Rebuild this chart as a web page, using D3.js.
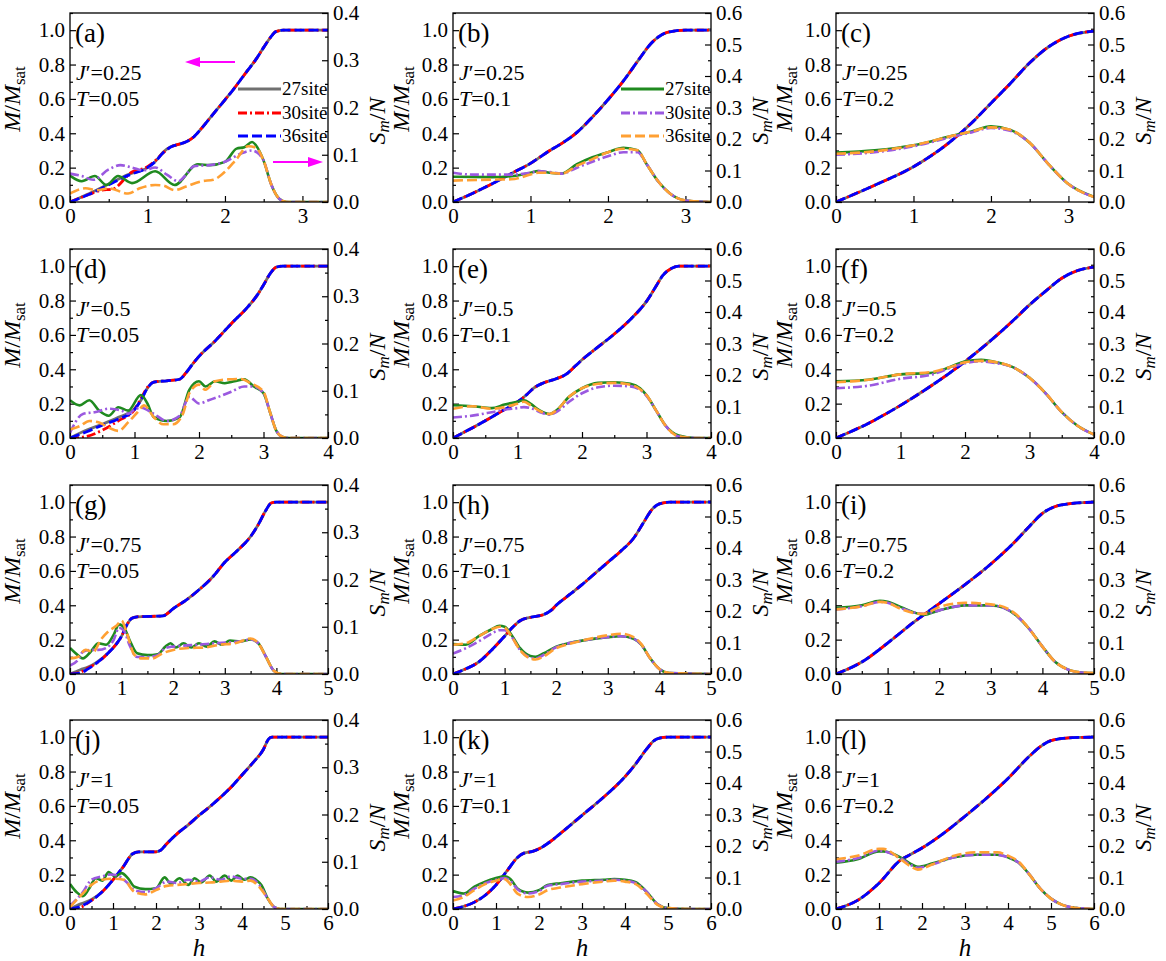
<!DOCTYPE html>
<html>
<head>
<meta charset="utf-8">
<script src="https://cdn.jsdelivr.net/npm/d3@7"></script>
<style>
  body { margin: 0; background: #fff; }
  svg text { font-family: "Liberation Serif", "Times New Roman", serif; }
</style>
</head>
<body>
<svg id="chart" width="1166" height="961"></svg>
<script>
// ---- data: [h, value] ----
// magnetisation M/Msat (27/30/36 site curves coincide except at low h for T=0.05)
var mA27 = [[0,0],[0.25,0.05],[0.5,0.105],[0.75,0.16],[1,0.2],[1.1,0.235],[1.2,0.29],[1.3,0.322],[1.4,0.335],[1.5,0.35],[1.6,0.38],[1.7,0.43],[1.8,0.485],[1.9,0.54],[2,0.595],[2.1,0.65],[2.2,0.71],[2.3,0.77],[2.4,0.83],[2.5,0.9],[2.6,0.965],[2.65,0.99],[2.75,1],[3.33,1]];
var mA30 = [[0,0],[0.25,0.045],[0.4,0.068],[0.55,0.075],[0.8,0.175],[1,0.205],[1.1,0.24],[1.2,0.285],[1.3,0.32],[1.4,0.335],[1.5,0.35],[1.6,0.38],[1.7,0.43],[1.8,0.485],[1.9,0.54],[2,0.595],[2.1,0.65],[2.2,0.71],[2.3,0.77],[2.4,0.83],[2.5,0.9],[2.6,0.965],[2.65,0.99],[2.75,1],[3.33,1]];
var mA36 = [[0,0],[0.25,0.045],[0.5,0.1],[0.75,0.155],[1,0.2],[1.1,0.235],[1.2,0.285],[1.3,0.32],[1.4,0.335],[1.5,0.35],[1.6,0.38],[1.7,0.43],[1.8,0.485],[1.9,0.54],[2,0.595],[2.1,0.65],[2.2,0.71],[2.3,0.77],[2.4,0.83],[2.5,0.9],[2.6,0.965],[2.65,0.99],[2.75,1],[3.33,1]];
var mB = [[0,0],[0.25,0.05],[0.5,0.105],[0.75,0.165],[1,0.225],[1.25,0.3],[1.4,0.34],[1.6,0.405],[1.8,0.495],[2,0.595],[2.2,0.705],[2.4,0.83],[2.55,0.92],[2.7,0.975],[2.85,0.995],[3,1],[3.33,1]];
var mC = [[0,0],[0.5,0.098],[1,0.205],[1.5,0.36],[1.75,0.46],[2,0.575],[2.25,0.69],[2.5,0.81],[2.75,0.905],[3,0.965],[3.33,0.995]];
var mD27 = [[0,0],[0.25,0.045],[0.5,0.08],[0.75,0.12],[1,0.17],[1.1,0.22],[1.2,0.29],[1.3,0.325],[1.5,0.333],[1.7,0.342],[1.8,0.38],[1.9,0.43],[2,0.475],[2.25,0.565],[2.5,0.665],[2.75,0.76],[2.9,0.83],[3,0.89],[3.1,0.955],[3.2,0.995],[3.3,1],[4,1]];
var mD30 = [[0,0],[0.2,0.005],[0.5,0.045],[0.75,0.1],[1,0.165],[1.1,0.23],[1.2,0.295],[1.3,0.325],[1.5,0.333],[1.7,0.342],[1.8,0.38],[1.9,0.43],[2,0.475],[2.25,0.565],[2.5,0.665],[2.75,0.76],[2.9,0.83],[3,0.89],[3.1,0.955],[3.2,0.995],[3.3,1],[4,1]];
var mD36 = [[0,0],[0.25,0.035],[0.5,0.075],[0.75,0.11],[1,0.165],[1.1,0.22],[1.2,0.29],[1.3,0.325],[1.5,0.333],[1.7,0.342],[1.8,0.38],[1.9,0.43],[2,0.475],[2.25,0.565],[2.5,0.665],[2.75,0.76],[2.9,0.83],[3,0.89],[3.1,0.955],[3.2,0.995],[3.3,1],[4,1]];
var mE = [[0,0],[0.5,0.1],[0.75,0.155],[1,0.21],[1.15,0.255],[1.25,0.29],[1.4,0.32],[1.6,0.345],[1.75,0.37],[1.9,0.42],[2,0.455],[2.25,0.53],[2.5,0.605],[2.75,0.69],[3,0.795],[3.15,0.885],[3.25,0.945],[3.4,0.99],[3.5,1],[4,1]];
var mF = [[0,0],[0.5,0.085],[1,0.19],[1.5,0.31],[1.75,0.375],[2,0.445],[2.25,0.52],[2.5,0.6],[2.75,0.685],[3,0.775],[3.25,0.855],[3.5,0.93],[3.75,0.975],[4,0.995]];
var mG27 = [[0,0],[0.2,0.025],[0.35,0.04],[0.5,0.065],[0.75,0.125],[0.9,0.175],[1,0.22],[1.1,0.285],[1.2,0.325],[1.3,0.333],[1.8,0.338],[1.9,0.355],[2,0.38],[2.25,0.43],[2.5,0.49],[2.75,0.56],[3,0.65],[3.25,0.72],[3.5,0.8],[3.65,0.87],[3.8,0.955],[3.9,0.995],[4,1],[5,1]];
var mG30 = [[0,0],[0.2,0.01],[0.35,0.035],[0.5,0.06],[0.75,0.125],[0.9,0.175],[1,0.22],[1.1,0.285],[1.2,0.325],[1.3,0.333],[1.8,0.338],[1.9,0.355],[2,0.38],[2.25,0.43],[2.5,0.49],[2.75,0.56],[3,0.65],[3.25,0.72],[3.5,0.8],[3.65,0.87],[3.8,0.955],[3.9,0.995],[4,1],[5,1]];
var mG36 = [[0,0],[0.2,0.005],[0.35,0.03],[0.5,0.06],[0.75,0.125],[0.9,0.175],[1,0.22],[1.1,0.285],[1.2,0.325],[1.3,0.333],[1.8,0.338],[1.9,0.355],[2,0.38],[2.25,0.43],[2.5,0.49],[2.75,0.56],[3,0.65],[3.25,0.72],[3.5,0.8],[3.65,0.87],[3.8,0.955],[3.9,0.995],[4,1],[5,1]];
var mH = [[0,0],[0.25,0.03],[0.5,0.07],[0.75,0.14],[1,0.22],[1.15,0.27],[1.3,0.31],[1.5,0.33],[1.75,0.345],[1.9,0.37],[2,0.4],[2.25,0.46],[2.5,0.52],[2.75,0.585],[3,0.65],[3.25,0.715],[3.5,0.79],[3.7,0.885],[3.85,0.955],[4,0.99],[4.2,1],[5,1]];
var mI = [[0,0],[0.5,0.07],[1,0.18],[1.5,0.3],[2,0.41],[2.5,0.52],[3,0.64],[3.5,0.78],[3.75,0.86],[4,0.935],[4.25,0.975],[4.5,0.99],[5,1]];
var mJ27 = [[0,0],[0.25,0.03],[0.5,0.055],[0.75,0.1],[1,0.17],[1.25,0.25],[1.45,0.32],[1.6,0.333],[2,0.333],[2.1,0.34],[2.25,0.38],[2.5,0.44],[2.75,0.49],[3,0.545],[3.25,0.595],[3.5,0.65],[3.75,0.71],[4,0.78],[4.25,0.85],[4.5,0.93],[4.62,0.99],[4.7,1],[6,1]];
var mJ30 = [[0,0],[0.25,0.01],[0.5,0.05],[0.75,0.1],[1,0.17],[1.25,0.25],[1.45,0.32],[1.6,0.333],[2,0.333],[2.1,0.34],[2.25,0.38],[2.5,0.44],[2.75,0.49],[3,0.545],[3.25,0.595],[3.5,0.65],[3.75,0.71],[4,0.78],[4.25,0.85],[4.5,0.93],[4.62,0.99],[4.7,1],[6,1]];
var mJ36 = [[0,0],[0.25,0.015],[0.5,0.05],[0.75,0.1],[1,0.17],[1.25,0.25],[1.45,0.32],[1.6,0.333],[2,0.333],[2.1,0.34],[2.25,0.38],[2.5,0.44],[2.75,0.49],[3,0.545],[3.25,0.595],[3.5,0.65],[3.75,0.71],[4,0.78],[4.25,0.85],[4.5,0.93],[4.62,0.99],[4.7,1],[6,1]];
var mK = [[0,0],[0.25,0.015],[0.5,0.04],[0.75,0.08],[1,0.14],[1.25,0.22],[1.5,0.3],[1.65,0.325],[1.85,0.335],[2,0.35],[2.25,0.39],[2.5,0.44],[3,0.545],[3.5,0.65],[4,0.77],[4.25,0.845],[4.5,0.93],[4.65,0.975],[4.8,0.995],[5,1],[6,1]];
var mL = [[0,0],[0.5,0.05],[1,0.15],[1.5,0.285],[1.75,0.32],[2,0.355],[2.5,0.44],[3,0.54],[3.5,0.645],[4,0.76],[4.5,0.89],[4.75,0.945],[5,0.98],[5.5,0.997],[6,1]];

// entropy Sm/N
var sA27 = [[0,0.056],[0.15,0.044],[0.32,0.055],[0.47,0.036],[0.62,0.055],[0.8,0.04],[1.1,0.065],[1.35,0.036],[1.65,0.08],[1.8,0.078],[2,0.085],[2.15,0.113],[2.25,0.116],[2.35,0.127],[2.42,0.115],[2.5,0.087],[2.6,0.036],[2.7,0.007],[2.8,0],[3.33,0]];
var sA30 = [[0,0.06],[0.15,0.055],[0.3,0.047],[0.5,0.069],[0.65,0.078],[0.8,0.073],[0.95,0.067],[1.1,0.073],[1.25,0.058],[1.4,0.044],[1.5,0.058],[1.6,0.076],[1.8,0.078],[2,0.085],[2.2,0.102],[2.35,0.109],[2.42,0.104],[2.5,0.087],[2.6,0.036],[2.7,0.007],[2.8,0],[3.33,0]];
var sA36 = [[0,0.018],[0.2,0.029],[0.35,0.025],[0.5,0.029],[0.75,0.018],[0.9,0.029],[1.1,0.036],[1.2,0.035],[1.35,0.025],[1.5,0.033],[1.7,0.044],[1.85,0.047],[2,0.064],[2.15,0.091],[2.3,0.118],[2.4,0.115],[2.5,0.087],[2.6,0.036],[2.7,0.007],[2.8,0],[3.33,0]];
var sB27 = [[0,0.08],[0.5,0.079],[0.75,0.082],[1,0.093],[1.1,0.098],[1.25,0.093],[1.4,0.09],[1.6,0.12],[1.8,0.142],[2,0.158],[2.2,0.172],[2.38,0.164],[2.5,0.12],[2.65,0.065],[2.8,0.027],[3,0.005],[3.33,0]];
var sB30 = [[0,0.093],[0.25,0.087],[0.5,0.087],[0.75,0.087],[1,0.093],[1.1,0.098],[1.25,0.095],[1.4,0.09],[1.6,0.109],[1.8,0.128],[2,0.145],[2.2,0.158],[2.38,0.158],[2.5,0.12],[2.65,0.065],[2.8,0.027],[3,0.005],[3.33,0]];
var sB36 = [[0,0.068],[0.5,0.071],[0.75,0.072],[1,0.087],[1.1,0.093],[1.25,0.093],[1.4,0.09],[1.6,0.115],[1.8,0.136],[2,0.158],[2.2,0.169],[2.38,0.164],[2.5,0.12],[2.65,0.065],[2.8,0.027],[3,0.005],[3.33,0]];
var sC27 = [[0,0.157],[0.5,0.164],[1,0.18],[1.5,0.21],[1.75,0.224],[2,0.24],[2.25,0.229],[2.5,0.188],[2.75,0.118],[3,0.057],[3.33,0.016]];
var sC30 = [[0,0.15],[0.5,0.158],[1,0.177],[1.5,0.207],[1.75,0.221],[2,0.235],[2.25,0.226],[2.5,0.188],[2.75,0.118],[3,0.057],[3.33,0.016]];
var sC36 = [[0,0.153],[0.5,0.161],[1,0.18],[1.5,0.21],[1.75,0.224],[2,0.237],[2.25,0.229],[2.5,0.188],[2.75,0.118],[3,0.057],[3.33,0.016]];
var sD27 = [[0,0.08],[0.15,0.069],[0.3,0.08],[0.45,0.058],[0.6,0.047],[0.75,0.065],[0.9,0.058],[1.1,0.091],[1.2,0.073],[1.3,0.044],[1.5,0.036],[1.7,0.044],[1.85,0.102],[2,0.12],[2.1,0.109],[2.25,0.12],[2.4,0.116],[2.55,0.12],[2.7,0.124],[2.85,0.109],[3,0.095],[3.1,0.055],[3.2,0.015],[3.3,0.002],[3.4,0],[4,0]];
var sD30 = [[0,0.011],[0.2,0.051],[0.4,0.055],[0.6,0.062],[0.8,0.058],[0.9,0.051],[1,0.06],[1.1,0.064],[1.3,0.051],[1.5,0.036],[1.7,0.047],[1.85,0.087],[2,0.073],[2.15,0.08],[2.3,0.087],[2.5,0.098],[2.7,0.109],[2.85,0.109],[3,0.095],[3.1,0.055],[3.2,0.015],[3.3,0.002],[3.4,0],[4,0]];
var sD36 = [[0,0.018],[0.15,0.025],[0.3,0.036],[0.45,0.033],[0.6,0.022],[0.75,0.015],[0.9,0.033],[1.05,0.055],[1.15,0.069],[1.3,0.044],[1.45,0.029],[1.6,0.029],[1.75,0.051],[1.85,0.095],[2,0.113],[2.1,0.102],[2.25,0.12],[2.45,0.124],[2.65,0.125],[2.8,0.116],[3,0.098],[3.1,0.055],[3.2,0.015],[3.3,0.002],[3.4,0],[4,0]];
var sE27 = [[0,0.104],[0.3,0.101],[0.6,0.095],[0.8,0.106],[1,0.115],[1.1,0.12],[1.2,0.109],[1.35,0.087],[1.5,0.076],[1.6,0.087],[1.8,0.131],[2,0.158],[2.25,0.175],[2.5,0.177],[2.75,0.172],[2.9,0.158],[3,0.136],[3.15,0.087],[3.3,0.038],[3.5,0.008],[3.75,0],[4,0]];
var sE30 = [[0,0.065],[0.3,0.071],[0.6,0.082],[0.8,0.09],[1,0.095],[1.1,0.098],[1.2,0.095],[1.35,0.082],[1.5,0.074],[1.6,0.082],[1.8,0.115],[2,0.142],[2.25,0.161],[2.5,0.166],[2.75,0.164],[2.9,0.153],[3,0.134],[3.15,0.087],[3.3,0.038],[3.5,0.005],[3.75,0],[4,0]];
var sE36 = [[0,0.093],[0.3,0.101],[0.6,0.093],[0.8,0.098],[1,0.109],[1.1,0.115],[1.2,0.104],[1.35,0.085],[1.5,0.076],[1.6,0.087],[1.8,0.131],[2,0.158],[2.25,0.172],[2.5,0.175],[2.75,0.169],[2.9,0.155],[3,0.136],[3.15,0.087],[3.3,0.038],[3.5,0.005],[3.75,0],[4,0]];
var sF27 = [[0,0.18],[0.5,0.185],[1,0.202],[1.5,0.207],[1.75,0.224],[2,0.243],[2.25,0.248],[2.5,0.24],[2.75,0.224],[3,0.191],[3.25,0.142],[3.5,0.082],[3.75,0.038],[4,0.011]];
var sF30 = [[0,0.158],[0.5,0.166],[1,0.188],[1.5,0.202],[1.75,0.221],[2,0.237],[2.25,0.243],[2.5,0.237],[2.75,0.224],[3,0.191],[3.25,0.142],[3.5,0.082],[3.75,0.038],[4,0.011]];
var sF36 = [[0,0.177],[0.5,0.185],[1,0.202],[1.5,0.21],[1.75,0.224],[2,0.24],[2.25,0.245],[2.5,0.24],[2.75,0.224],[3,0.191],[3.25,0.142],[3.5,0.082],[3.75,0.038],[4,0.011]];
var sG27 = [[0,0.055],[0.15,0.04],[0.25,0.033],[0.4,0.047],[0.55,0.065],[0.7,0.062],[0.85,0.084],[0.95,0.105],[1.05,0.098],[1.15,0.073],[1.3,0.044],[1.5,0.04],[1.7,0.042],[1.85,0.058],[1.95,0.065],[2.05,0.056],[2.2,0.065],[2.35,0.056],[2.5,0.065],[2.65,0.058],[2.8,0.069],[2.95,0.062],[3.1,0.071],[3.3,0.069],[3.5,0.073],[3.65,0.065],[3.8,0.036],[3.95,0.007],[4.1,0],[5,0]];
var sG30 = [[0,0.018],[0.15,0.029],[0.25,0.047],[0.4,0.051],[0.55,0.051],[0.7,0.055],[0.85,0.073],[0.95,0.098],[1.05,0.091],[1.15,0.062],[1.3,0.036],[1.5,0.036],[1.7,0.04],[1.85,0.055],[2,0.058],[2.2,0.06],[2.5,0.062],[2.8,0.065],[3.1,0.067],[3.3,0.069],[3.5,0.073],[3.65,0.065],[3.8,0.036],[3.95,0.007],[4.1,0],[5,0]];
var sG36 = [[0,0.033],[0.15,0.036],[0.3,0.051],[0.45,0.047],[0.6,0.073],[0.75,0.091],[0.9,0.102],[1,0.113],[1.1,0.087],[1.25,0.04],[1.4,0.033],[1.6,0.033],[1.8,0.044],[2,0.051],[2.3,0.055],[2.6,0.056],[2.9,0.062],[3.2,0.065],[3.5,0.075],[3.65,0.065],[3.8,0.036],[3.95,0.007],[4.1,0],[5,0]];
var sH27 = [[0,0.095],[0.25,0.093],[0.5,0.12],[0.75,0.142],[0.9,0.153],[1,0.15],[1.15,0.12],[1.3,0.082],[1.5,0.057],[1.6,0.055],[1.75,0.065],[2,0.087],[2.25,0.098],[2.5,0.106],[3,0.117],[3.25,0.12],[3.5,0.112],[3.65,0.093],[3.8,0.055],[4,0.016],[4.2,0.003],[5,0]];
var sH30 = [[0,0.065],[0.25,0.082],[0.5,0.104],[0.75,0.128],[0.9,0.139],[1,0.139],[1.15,0.115],[1.3,0.076],[1.5,0.052],[1.6,0.049],[1.75,0.06],[2,0.085],[2.25,0.098],[2.5,0.106],[3,0.117],[3.25,0.12],[3.5,0.112],[3.65,0.093],[3.8,0.055],[4,0.016],[4.2,0.003],[5,0]];
var sH36 = [[0,0.093],[0.25,0.098],[0.5,0.12],[0.75,0.142],[0.9,0.15],[1,0.147],[1.15,0.115],[1.3,0.076],[1.5,0.049],[1.6,0.046],[1.75,0.055],[2,0.082],[2.25,0.095],[2.5,0.106],[3,0.123],[3.25,0.128],[3.5,0.117],[3.65,0.095],[3.8,0.055],[4,0.016],[4.2,0.003],[5,0]];
var sI27 = [[0,0.21],[0.5,0.218],[0.85,0.232],[1,0.229],[1.25,0.213],[1.5,0.196],[1.7,0.188],[2,0.202],[2.5,0.218],[3,0.218],[3.25,0.21],[3.5,0.185],[3.75,0.142],[4,0.087],[4.25,0.038],[4.5,0.014],[4.75,0.005],[5,0.003]];
var sI30 = [[0,0.205],[0.5,0.215],[0.85,0.229],[1,0.226],[1.25,0.21],[1.5,0.196],[1.7,0.191],[2,0.202],[2.5,0.218],[3,0.218],[3.25,0.21],[3.5,0.185],[3.75,0.142],[4,0.087],[4.25,0.038],[4.5,0.014],[4.75,0.005],[5,0.003]];
var sI36 = [[0,0.205],[0.5,0.215],[0.85,0.229],[1,0.226],[1.25,0.207],[1.5,0.194],[1.7,0.191],[2,0.213],[2.5,0.226],[3,0.221],[3.25,0.213],[3.5,0.188],[3.75,0.142],[4,0.087],[4.25,0.038],[4.5,0.014],[4.75,0.005],[5,0.003]];
var sJ27 = [[0,0.053],[0.15,0.036],[0.3,0.027],[0.45,0.044],[0.6,0.065],[0.75,0.06],[0.9,0.078],[1.05,0.069],[1.2,0.076],[1.35,0.065],[1.5,0.047],[1.75,0.042],[2,0.044],[2.2,0.067],[2.35,0.053],[2.55,0.065],[2.75,0.051],[2.9,0.065],[3.05,0.056],[3.25,0.071],[3.4,0.058],[3.6,0.071],[3.75,0.06],[3.9,0.071],[4.05,0.062],[4.2,0.067],[4.35,0.06],[4.45,0.051],[4.6,0.022],[4.75,0.004],[4.9,0],[6,0]];
var sJ30 = [[0,0.007],[0.3,0.036],[0.5,0.062],[0.75,0.069],[0.95,0.073],[1.1,0.071],[1.3,0.058],[1.5,0.04],[1.75,0.036],[2,0.044],[2.25,0.058],[2.5,0.055],[2.75,0.062],[3,0.058],[3.25,0.067],[3.5,0.062],[3.75,0.069],[4,0.064],[4.2,0.064],[4.4,0.051],[4.6,0.022],[4.75,0.004],[4.9,0],[6,0]];
var sJ36 = [[0,0.004],[0.3,0.033],[0.5,0.051],[0.75,0.062],[1,0.064],[1.25,0.062],[1.5,0.036],[1.75,0.031],[2,0.04],[2.25,0.049],[2.5,0.051],[2.75,0.053],[3,0.055],[3.25,0.056],[3.5,0.058],[3.75,0.06],[4,0.058],[4.2,0.06],[4.4,0.047],[4.6,0.022],[4.75,0.004],[4.9,0],[6,0]];
var sK27 = [[0,0.057],[0.25,0.049],[0.5,0.071],[0.75,0.087],[1,0.098],[1.2,0.104],[1.35,0.093],[1.5,0.065],[1.75,0.052],[2,0.06],[2.2,0.076],[2.5,0.082],[3,0.09],[3.5,0.093],[3.75,0.095],[4,0.093],[4.25,0.085],[4.5,0.055],[4.75,0.016],[5,0.003],[5.5,0],[6,0]];
var sK30 = [[0,0.038],[0.25,0.044],[0.5,0.065],[0.75,0.082],[1,0.093],[1.2,0.098],[1.35,0.087],[1.5,0.063],[1.75,0.049],[2,0.057],[2.2,0.074],[2.5,0.079],[3,0.087],[3.5,0.09],[3.75,0.093],[4,0.09],[4.25,0.082],[4.5,0.055],[4.75,0.016],[5,0.003],[5.5,0],[6,0]];
var sK36 = [[0,0.027],[0.25,0.038],[0.5,0.06],[0.75,0.079],[1,0.09],[1.2,0.095],[1.35,0.076],[1.5,0.049],[1.75,0.038],[2,0.046],[2.2,0.06],[2.5,0.068],[3,0.079],[3.5,0.087],[3.75,0.09],[4,0.087],[4.25,0.079],[4.5,0.049],[4.75,0.014],[5,0.003],[5.5,0],[6,0]];
var sL27 = [[0,0.147],[0.5,0.158],[1,0.183],[1.1,0.183],[1.5,0.164],[1.75,0.142],[1.9,0.134],[2.25,0.145],[2.75,0.164],[3.25,0.172],[3.75,0.172],[4,0.164],[4.25,0.147],[4.5,0.109],[4.75,0.065],[5,0.033],[5.25,0.014],[5.5,0.005],[6,0]];
var sL30 = [[0,0.15],[0.5,0.161],[1,0.185],[1.5,0.161],[1.75,0.139],[1.9,0.131],[2.25,0.142],[2.75,0.164],[3.25,0.172],[3.75,0.172],[4,0.164],[4.25,0.147],[4.5,0.109],[4.75,0.065],[5,0.033],[5.25,0.014],[5.5,0.005],[6,0]];
var sL36 = [[0,0.158],[0.5,0.169],[1,0.191],[1.1,0.191],[1.5,0.158],[1.75,0.134],[1.9,0.125],[2.25,0.142],[2.75,0.169],[3.25,0.18],[3.75,0.18],[4,0.169],[4.25,0.15],[4.5,0.109],[4.75,0.065],[5,0.033],[5.25,0.014],[5.5,0.005],[6,0]];

var siteNames = ["27site", "30site", "36site"];
var jValues = ["0.25", "0.5", "0.75", "1"];
var tValues = ["0.05", "0.1", "0.2"];
var hMax = [3.33, 4, 5, 6];
var sMax = [0.4, 0.6, 0.6];

var panels = [
  {tag:"(a)", m:[mA27,mA30,mA36], s:[sA27,sA30,sA36]},
  {tag:"(b)", m:[mB,mB,mB],       s:[sB27,sB30,sB36]},
  {tag:"(c)", m:[mC,mC,mC],       s:[sC27,sC30,sC36]},
  {tag:"(d)", m:[mD27,mD30,mD36], s:[sD27,sD30,sD36]},
  {tag:"(e)", m:[mE,mE,mE],       s:[sE27,sE30,sE36]},
  {tag:"(f)", m:[mF,mF,mF],       s:[sF27,sF30,sF36]},
  {tag:"(g)", m:[mG27,mG30,mG36], s:[sG27,sG30,sG36]},
  {tag:"(h)", m:[mH,mH,mH],       s:[sH27,sH30,sH36]},
  {tag:"(i)", m:[mI,mI,mI],       s:[sI27,sI30,sI36]},
  {tag:"(j)", m:[mJ27,mJ30,mJ36], s:[sJ27,sJ30,sJ36]},
  {tag:"(k)", m:[mK,mK,mK],       s:[sK27,sK30,sK36]},
  {tag:"(l)", m:[mL,mL,mL],       s:[sL27,sL30,sL36]}
];

// ---- styling ----
var mColors = ["#707070", "#ff0000", "#0000ff"];
var sColors = ["#1f8a1f", "#9b59e0", "#ffa033"];
var dashes = [null, "9,3,2,3", "10,4"];

var W = 258, H = 189;
var colLeft = [70, 453, 836];
var rowTop = [13, 249, 485, 720];
var yTitleOffset = [-50, -44, -44];

var svg = d3.select("#chart");

function label(g, x, y, size) {
  return g.append("text").attr("x", x).attr("y", y)
    .style("font-size", size + "px").attr("fill", "#000");
}

function drawPanel(p, i) {
  var col = i % 3, row = Math.floor(i / 3);
  var g = svg.append("g").attr("transform", "translate(" + colLeft[col] + "," + rowTop[row] + ")");

  var x = d3.scaleLinear().domain([0, hMax[row]]).range([0, W]);
  var yM = d3.scaleLinear().domain([0, 1.1]).range([H, 0]);
  var yS = d3.scaleLinear().domain([0, sMax[col]]).range([H, 0]);

  var clipId = "clip" + i;
  g.append("clipPath").attr("id", clipId).append("rect")
    .attr("x", 0).attr("y", -2).attr("width", W).attr("height", H + 2);

  // axes (ticks point inward)
  var xMajor = d3.range(0, Math.floor(hMax[row]) + 1);
  var xMinor = d3.range(0.5, hMax[row], 1);
  var mMajor = [0, 0.2, 0.4, 0.6, 0.8, 1.0];
  var mMinor = [0.1, 0.3, 0.5, 0.7, 0.9, 1.1];
  var sMajor = d3.range(0, sMax[col] + 0.001, 0.1);
  var sMinor = d3.range(0.05, sMax[col], 0.1);

  function styleAxis(sel) {
    sel.select(".domain").remove();
    sel.selectAll("line").attr("stroke", "#000").attr("stroke-width", 1.2);
    sel.selectAll("text").style("font-size", "21px").attr("fill", "#000");
  }

  g.append("g").attr("transform", "translate(0," + H + ")")
    .call(d3.axisBottom(x).tickValues(xMajor).tickFormat(d3.format("d")).tickSize(-6).tickPadding(6))
    .call(styleAxis);
  g.append("g").attr("transform", "translate(0," + H + ")")
    .call(d3.axisBottom(x).tickValues(xMinor).tickFormat("").tickSize(-3))
    .call(styleAxis);
  g.append("g")
    .call(d3.axisLeft(yM).tickValues(mMajor).tickFormat(d3.format(".1f")).tickSize(-6).tickPadding(5))
    .call(styleAxis);
  g.append("g")
    .call(d3.axisLeft(yM).tickValues(mMinor).tickFormat("").tickSize(-3))
    .call(styleAxis);
  g.append("g").attr("transform", "translate(" + W + ",0)")
    .call(d3.axisRight(yS).tickValues(sMajor).tickFormat(d3.format(".1f")).tickSize(-6).tickPadding(5))
    .call(styleAxis);
  g.append("g").attr("transform", "translate(" + W + ",0)")
    .call(d3.axisRight(yS).tickValues(sMinor).tickFormat("").tickSize(-3))
    .call(styleAxis);

  var lineM = d3.line().x(function(d){ return x(d[0]); }).y(function(d){ return yM(d[1]); }).curve(d3.curveMonotoneX);
  var lineS = d3.line().x(function(d){ return x(d[0]); }).y(function(d){ return yS(d[1]); }).curve(d3.curveMonotoneX);

  var plot = g.append("g").attr("clip-path", "url(#" + clipId + ")");
  p.m.forEach(function(d, k) {
    plot.append("path").attr("d", lineM(d)).attr("fill", "none")
      .attr("stroke", mColors[k]).attr("stroke-width", 2.8)
      .attr("stroke-dasharray", dashes[k]);
  });
  p.s.forEach(function(d, k) {
    plot.append("path").attr("d", lineS(d)).attr("fill", "none")
      .attr("stroke", sColors[k]).attr("stroke-width", 2.6)
      .attr("stroke-dasharray", dashes[k]);
  });

  // frame
  g.append("rect").attr("width", W).attr("height", H)
    .attr("fill", "none").attr("stroke", "#000").attr("stroke-width", 1.3);

  // panel texts
  label(g, 5, 29, 27).text(p.tag);
  var jt = label(g, 6, 67, 22);
  jt.append("tspan").attr("font-style", "italic").text("J");
  jt.append("tspan").text("\u2032=" + jValues[row]);
  var tt = label(g, 6, 93, 22);
  tt.append("tspan").attr("font-style", "italic").text("T");
  tt.append("tspan").text("=" + tValues[col]);

  // axis titles
  var yl = label(g, 0, 0, 24).attr("text-anchor", "middle")
    .attr("transform", "translate(" + yTitleOffset[col] + ",86) rotate(-90)");
  yl.append("tspan").attr("font-style", "italic").text("M");
  yl.append("tspan").text("/");
  yl.append("tspan").attr("font-style", "italic").text("M");
  yl.append("tspan").attr("dy", 5).style("font-size", "17px").text("sat");

  var sl = label(g, 0, 0, 24).attr("text-anchor", "middle")
    .attr("transform", "translate(" + (W + 57) + ",108) rotate(-90)");
  sl.append("tspan").attr("font-style", "italic").text("S");
  sl.append("tspan").attr("font-style", "italic").attr("dy", 4).style("font-size", "17px").text("m");
  sl.append("tspan").attr("dy", -4).text("/");
  sl.append("tspan").attr("font-style", "italic").text("N");

  if (row === 3) {
    label(g, W / 2, H + 47, 25).attr("text-anchor", "middle")
      .attr("font-style", "italic").text("h");
  }

  // legends in (a) and (b)
  if (i === 0 || i === 1) {
    var cols = i === 0 ? mColors : sColors;
    var ly = [76, 100, 123];
    siteNames.forEach(function(name, k) {
      g.append("line").attr("x1", 168).attr("x2", 211).attr("y1", ly[k]).attr("y2", ly[k])
        .attr("stroke", cols[k]).attr("stroke-width", 2.8).attr("stroke-dasharray", dashes[k]);
      label(g, 212, ly[k] + 6, 19).text(name);
    });
  }

  // arrows in (a)
  if (i === 0) {
    arrow(g, 165, 115, 49);
    arrow(g, 203, 253, 149);
  }
}

function arrow(g, x1, x2, y) {
  var dir = x2 > x1 ? 1 : -1;
  g.append("line").attr("x1", x1).attr("x2", x2 - dir * 12).attr("y1", y).attr("y2", y)
    .attr("stroke", "#ff00ff").attr("stroke-width", 2);
  g.append("path")
    .attr("d", "M" + x2 + "," + y + "L" + (x2 - dir * 15) + "," + (y - 5) + "L" + (x2 - dir * 15) + "," + (y + 5) + "Z")
    .attr("fill", "#ff00ff");
}

panels.forEach(drawPanel);
</script>
</body>
</html>
